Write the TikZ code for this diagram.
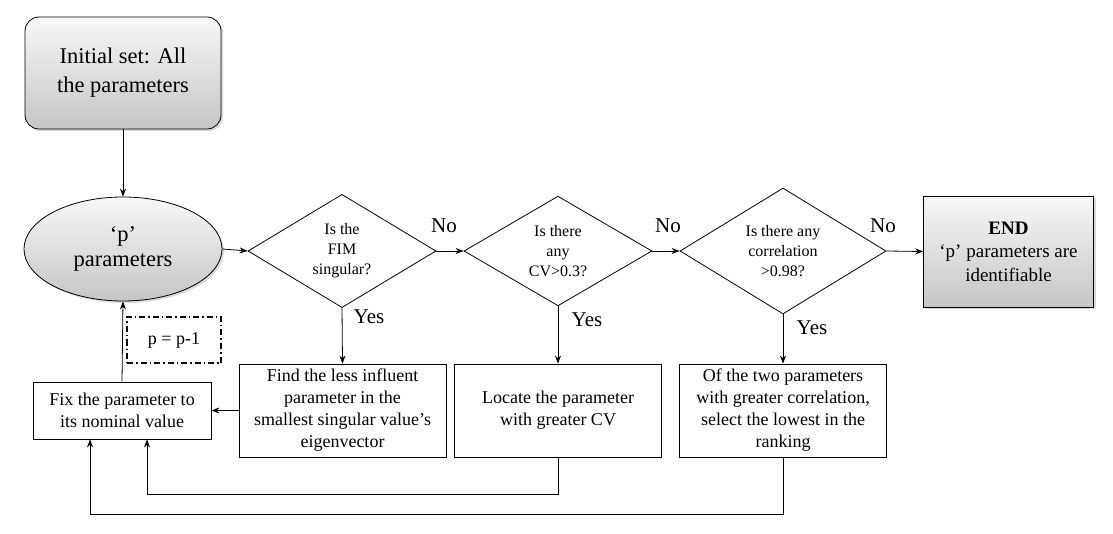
\documentclass[tikz,border=0pt]{standalone}
\usepackage{fontspec}
\setmainfont{Liberation Serif}
\usetikzlibrary{shapes.geometric}
\usetikzlibrary{shadows}
\usetikzlibrary{arrows.meta}

\begin{document}
\begin{tikzpicture}[x = 1pt, y = -1pt, line width = 0.8pt, >={Stealth[length = 8pt, width = 6pt]},
	grey/.style = {draw = black, top color = gray!6, bottom color = gray!45, drop shadow = {opacity = 0.3, shadow xshift = 2pt, shadow yshift = -2pt}},
	question/.style = {draw = black, diamond, inner sep = 0pt, align = center, font = \fontsize{16}{20}\selectfont},
	stepbox/.style = {draw = black, rectangle, inner sep = 0pt, align = center, minimum width = 207pt, minimum height = 93pt, font = \fontsize{18}{22}\selectfont},
	answer/.style = {font = \fontsize{21}{25}\selectfont}]
							\useasboundingbox (0, 0) rectangle (1113, 534);
							\node [grey, rounded corners = 14pt, minimum width = 196pt, minimum height = 112pt, align = center, font = \fontsize{22.5}{29}\selectfont] (initial) at (123, 73) {Initial set: All\\the parameters};
							\node [grey, ellipse, minimum width = 198pt, minimum height = 104pt, inner sep = 0pt, align = center, font = \fontsize{22.5}{25}\selectfont] (pset) at (123, 249) {`p'\\parameters};
							\node [question, minimum width = 188pt, minimum height = 94pt] (fim) at (342, 251) {Is the\\FIM\\singular?};
							\node [question, minimum width = 188pt, minimum height = 94pt] (cv) at (558, 251) {Is there\\any\\CV>0.3?};
							\node [question, minimum width = 206pt, minimum height = 94pt] (corr) at (783, 251) {Is there any\\correlation\\>0.98?};
							\node [grey, minimum width = 170pt, minimum height = 111pt, inner sep = 0pt, align = center, font = \fontsize{19}{23.5}\selectfont] (end) at (1008.5, 251.5) {\textbf{END}\\`p' parameters are\\identifiable};
							\node [stepbox] (find) at (342.5, 410.5) {Find the less influent\\parameter in the\\smallest singular value's\\eigenvector};
							\node [stepbox] (locate) at (558, 410.5) {Locate the parameter\\with greater CV};
							\node [stepbox] (select) at (783, 410.5) {Of the two parameters\\with greater correlation,\\select the lowest in the\\ranking};
							\node [stepbox, minimum width = 178pt, minimum height = 57pt] (fix) at (122, 410.5) {Fix the parameter to\\its nominal value};
							\node [draw = black, line width = 1.8pt, dash pattern = on 6pt off 3pt on 1.5pt off 3pt, minimum width = 94pt, minimum height = 46pt, font = \fontsize{18}{22}\selectfont] (dec) at (174, 340) {p = p-1};
							\node [answer] (no1) at (444, 226) {No};
							\node [answer] (no2) at (668, 226) {No};
							\node [answer] (no3) at (883, 226) {No};
							\node [answer] (yes1) at (369, 317) {Yes};
							\node [answer] (yes2) at (587, 320) {Yes};
							\node [answer] (yes3) at (812, 328) {Yes};
							\draw [black, ->] (initial) -- (pset);
							\draw [black, ->] (pset.east) -- (fim.west);
							\draw [black, ->] (fim.east) -- (cv.west);
							\draw [black, ->] (cv.east) -- (corr.west);
							\draw [black, ->] (corr.east) -- (end.west);
							\draw [black, ->] (fim.south) -- (find.north);
							\draw [black, ->] (cv.south) -- (locate.north);
							\draw [black, ->] (corr.south) -- (select.north);
							\draw [black, ->] (find.west) -- (fix.east);
							\draw [black, ->] (fix.north) -- (pset.south);
							\draw [black, ->] (locate.south) -- ++(0, 37) -| ([xshift = 25pt] fix.south);
							\draw [black, ->] (select.south) -- ++(0, 57) -| ([xshift = -32pt] fix.south);
						\end{tikzpicture}
\end{document}
